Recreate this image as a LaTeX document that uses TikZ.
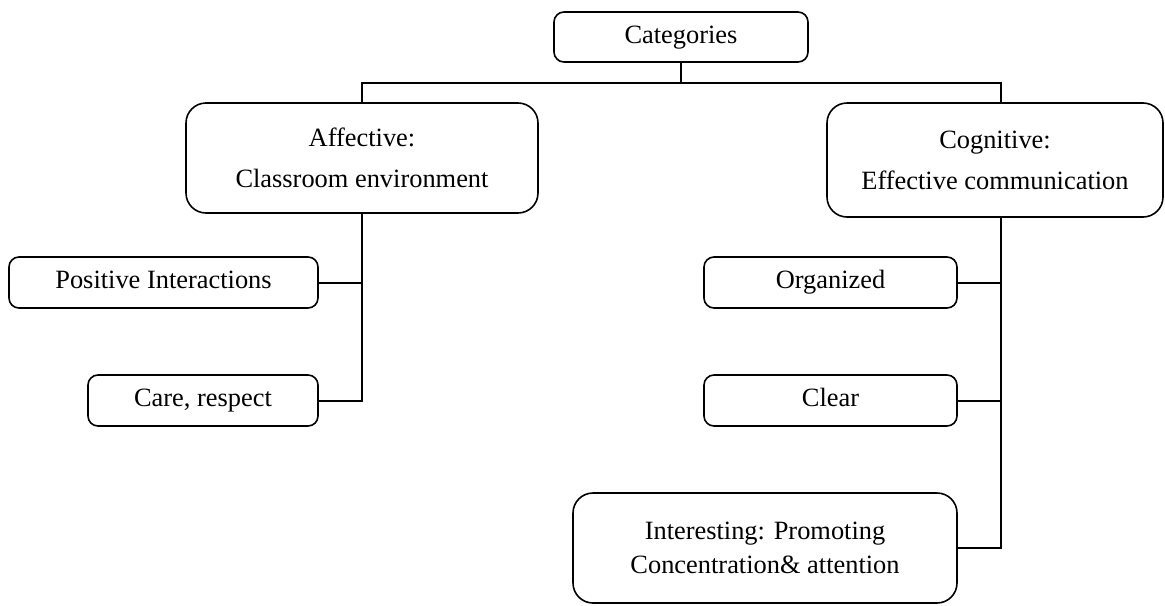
\documentclass[tikz,border=0pt]{standalone}
\usepackage{fontspec}
\setmainfont{Liberation Serif}
\usetikzlibrary{positioning, calc}

\begin{document}
\begin{tikzpicture}[x=0.5pt, y=-0.5pt,
    box/.style={draw, line width=0.8pt, rounded corners=5pt, align=center,
      inner sep=0pt, font=\fontsize{13.2}{20.5}\selectfont},
    itembox/.style={box, text height=9pt, text depth=2.8pt},
    bigbox/.style={box, rounded corners=10pt},
    link/.style={line width=1pt}]
  \useasboundingbox (0,0) rectangle (1165,605);

  % Top level
  \node[itembox, minimum width=127pt, minimum height=25pt] (cat) at (681,37) {Categories};

  % Two categories
  \node[bigbox, minimum width=176pt, minimum height=55pt] (aff) at (362,158)
    {Affective:\\Classroom environment};
  \node[bigbox, minimum width=168pt, minimum height=57pt] (cog) at (995,160)
    {Cognitive:\\Effective communication};

  % Affective items
  \node[itembox, minimum width=154.5pt, minimum height=25.5pt] (pos) at (163.5,282.5)
    {Positive Interactions};
  \node[itembox, minimum width=115pt, minimum height=25.5pt] (care) at (203,400.5)
    {Care, respect};

  % Cognitive items
  \node[itembox, minimum width=126.5pt, minimum height=25.5pt] (org) at (830.5,282.5)
    {Organized};
  \node[itembox, minimum width=126.5pt, minimum height=25.5pt] (clr) at (830.5,400.5)
    {Clear};
  \node[bigbox, minimum width=192pt, minimum height=55pt,
    font=\fontsize{13.2}{17}\selectfont] (intr) at (765,548)
    {Interesting: Promoting\\Concentration\& attention};

  % Connectors
  \draw[link] (cat.south) -- ++(0,20) coordinate (bus);
  \coordinate (cogtop) at ([xshift=3pt]cog.north);
  \coordinate (cogbot) at ([xshift=3pt]cog.south);
  \draw[link] (aff.north) |- (bus) -| (cogtop);

  \draw[link] (aff.south) |- (care.east);
  \draw[link] (pos.east) -- (pos.east -| aff.south);

  \draw[link] (cogbot) |- (intr.east);
  \draw[link] (org.east) -- (org.east -| cogbot);
  \draw[link] (clr.east) -- (clr.east -| cogbot);
\end{tikzpicture}
\end{document}
